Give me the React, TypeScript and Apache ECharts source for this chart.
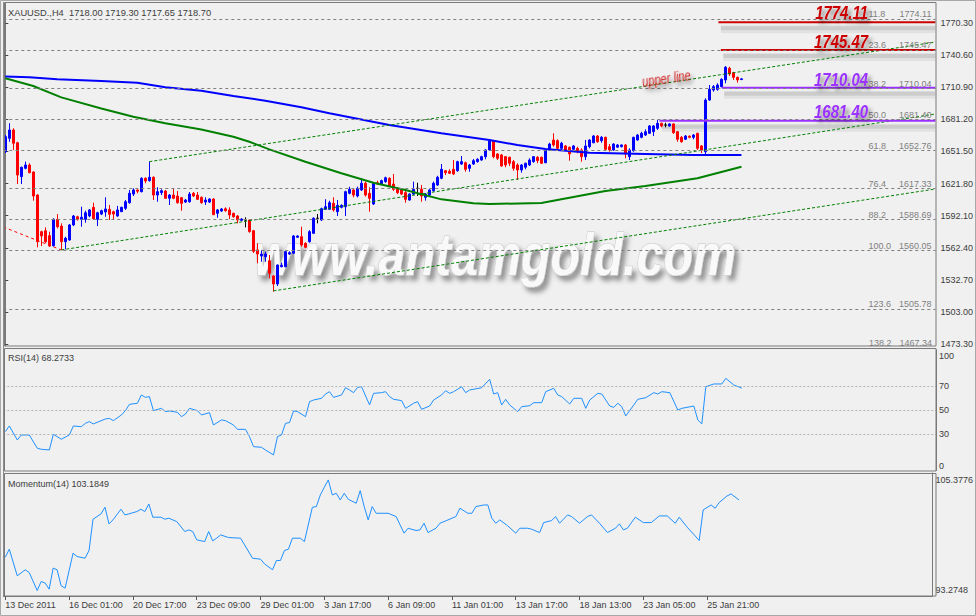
import React, { useEffect, useRef } from "react";
import * as echarts from "echarts";

const FONT = "'Liberation Sans', Arial, sans-serif";

const symbolName = "XAUUSD.,H4";
const tickLabels = ["13 Dec 2011", "16 Dec 01:00", "20 Dec 17:00", "23 Dec 09:00", "29 Dec 01:00", "3 Jan 17:00", "6 Jan 09:00", "11 Jan 01:00", "13 Jan 17:00", "18 Jan 13:00", "23 Jan 05:00", "25 Jan 21:00"];
const barsPerTick = 16;
const totalSlots = 233;

const opens = [
  1651.3, 1663.7, 1671.4, 1659.6, 1628.2, 1635.9, 1639.0, 1632.5, 1611.2, 1577.3,
  1578.2, 1573.6, 1564.3, 1588.7, 1582.5, 1568.0, 1569.6, 1583.5, 1591.1, 1588.7,
  1588.7, 1591.8, 1599.8, 1588.7, 1593.6, 1595.5, 1598.0, 1595.8, 1591.8, 1595.8,
  1598.9, 1604.1, 1612.1, 1615.9, 1614.3, 1626.7, 1624.5, 1627.6, 1611.2, 1613.4,
  1614.9, 1608.2, 1611.2, 1610.3, 1608.7, 1604.7, 1605.0, 1612.8, 1611.2, 1609.1,
  1604.7, 1604.7, 1607.5, 1594.3, 1596.4, 1598.5, 1597.4, 1594.3, 1591.8, 1587.8,
  1588.1, 1588.1, 1578.2, 1560.4, 1554.8, 1554.1, 1550.4, 1536.3, 1528.9, 1544.9,
  1544.9, 1556.6, 1557.3, 1572.1, 1572.6, 1566.5, 1568.0, 1575.8, 1589.7, 1588.1,
  1598.0, 1598.0, 1603.5, 1595.8, 1599.8, 1600.4, 1612.8, 1615.9, 1610.3, 1615.9,
  1622.1, 1612.8, 1602.9, 1622.6, 1621.4, 1623.6, 1626.7, 1621.4, 1617.1, 1615.9,
  1613.4, 1606.6, 1612.1, 1617.4, 1616.5, 1609.1, 1611.2, 1615.2, 1620.5, 1626.7,
  1633.7, 1633.2, 1635.0, 1633.7, 1639.9, 1641.1, 1635.9, 1639.9, 1642.1, 1643.6,
  1646.7, 1652.9, 1661.5, 1649.2, 1648.3, 1646.7, 1646.1, 1642.1, 1639.0, 1634.4,
  1636.9, 1639.0, 1642.1, 1646.1, 1646.1, 1641.1, 1652.9, 1662.1, 1661.5, 1654.4,
  1656.6, 1655.4, 1653.5, 1654.4, 1652.9, 1646.7, 1655.9, 1659.6, 1665.8, 1661.5,
  1664.6, 1655.9, 1652.9, 1655.5, 1656.0, 1657.5, 1646.7, 1652.2, 1662.1, 1664.6,
  1666.7, 1668.3, 1669.8, 1672.9, 1677.6, 1676.0, 1675.1, 1677.0, 1669.8, 1664.6,
  1662.8, 1665.6, 1664.6, 1668.3, 1656.6, 1651.3, 1699.1, 1708.4, 1709.0, 1711.5,
  1717.7, 1728.5, 1724.4, 1720.1, 1718.0,
];
const closes = [
  1665.2, 1671.4, 1659.1, 1629.7, 1636.9, 1639.0, 1631.9, 1610.3, 1568.0, 1573.3,
  1568.0, 1564.0, 1588.7, 1581.9, 1568.0, 1571.2, 1583.5, 1591.8, 1588.7, 1590.6,
  1594.8, 1597.4, 1589.3, 1594.8, 1596.7, 1598.3, 1593.4, 1593.6, 1597.4, 1599.8,
  1605.0, 1612.8, 1615.9, 1614.7, 1626.7, 1624.2, 1627.6, 1611.2, 1614.3, 1615.2,
  1608.2, 1611.2, 1608.2, 1604.1, 1603.5, 1606.6, 1612.1, 1610.3, 1607.2, 1604.1,
  1606.6, 1607.5, 1593.0, 1597.4, 1598.3, 1596.7, 1592.7, 1591.1, 1588.1, 1589.0,
  1588.1, 1577.3, 1559.1, 1556.6, 1556.6, 1556.6, 1538.8, 1528.9, 1546.4, 1546.2,
  1558.8, 1557.9, 1573.3, 1573.3, 1564.9, 1562.8, 1577.3, 1589.7, 1589.7, 1598.6,
  1600.4, 1604.1, 1597.4, 1601.7, 1601.7, 1614.3, 1616.5, 1611.2, 1617.4, 1622.1,
  1611.2, 1608.2, 1622.1, 1621.4, 1624.5, 1627.2, 1619.6, 1616.5, 1613.4, 1612.1,
  1607.2, 1612.1, 1616.5, 1617.4, 1610.3, 1612.1, 1615.9, 1622.1, 1627.6, 1635.0,
  1631.9, 1631.3, 1630.7, 1642.1, 1642.1, 1635.0, 1639.0, 1643.0, 1644.3, 1646.7,
  1652.9, 1661.2, 1646.7, 1645.2, 1638.1, 1639.0, 1640.6, 1635.9, 1634.4, 1639.0,
  1640.6, 1643.6, 1646.7, 1643.0, 1640.6, 1652.9, 1658.4, 1657.5, 1654.4, 1659.1,
  1652.9, 1649.2, 1656.6, 1651.3, 1646.7, 1656.6, 1662.1, 1665.8, 1660.5, 1664.6,
  1653.5, 1652.9, 1658.4, 1657.5, 1657.5, 1649.2, 1652.9, 1664.6, 1666.7, 1668.3,
  1669.8, 1675.1, 1675.1, 1677.6, 1675.1, 1676.0, 1677.0, 1668.9, 1662.8, 1660.5,
  1665.8, 1664.6, 1666.7, 1654.4, 1652.9, 1699.1, 1709.0, 1711.5, 1713.0, 1718.3,
  1729.4, 1723.2, 1720.1, 1717.7, 1718.7,
];
const lows = [
  1650.1, 1660.5, 1652.9, 1621.4, 1621.4, 1635.0, 1631.3, 1606.0, 1562.8, 1564.0,
  1566.5, 1563.4, 1563.4, 1580.4, 1560.4, 1561.0, 1568.9, 1582.5, 1587.5, 1581.9,
  1585.6, 1590.6, 1588.1, 1582.5, 1592.6, 1591.1, 1588.1, 1588.7, 1591.1, 1595.5,
  1597.4, 1603.2, 1610.3, 1612.8, 1613.7, 1622.1, 1623.6, 1606.6, 1605.0, 1611.2,
  1607.8, 1602.0, 1607.3, 1603.2, 1596.7, 1603.8, 1604.1, 1609.4, 1606.6, 1603.2,
  1602.0, 1603.8, 1592.7, 1590.2, 1595.5, 1595.8, 1589.0, 1590.2, 1585.0, 1587.2,
  1581.3, 1576.4, 1557.6, 1548.0, 1549.5, 1549.5, 1534.1, 1521.8, 1527.0, 1544.3,
  1544.3, 1555.7, 1556.6, 1571.7, 1563.4, 1561.9, 1567.1, 1575.1, 1585.0, 1587.2,
  1597.4, 1597.4, 1595.8, 1591.8, 1598.9, 1591.8, 1611.9, 1609.1, 1609.1, 1615.0,
  1609.8, 1595.8, 1602.0, 1620.5, 1620.5, 1622.6, 1618.9, 1615.0, 1612.1, 1611.2,
  1604.1, 1606.0, 1611.2, 1610.3, 1605.0, 1606.0, 1610.3, 1614.3, 1619.6, 1625.8,
  1629.7, 1630.7, 1629.7, 1632.8, 1639.0, 1632.8, 1632.8, 1639.0, 1641.1, 1642.9,
  1644.3, 1652.0, 1645.2, 1643.6, 1637.4, 1636.9, 1638.1, 1633.7, 1625.1, 1631.9,
  1635.0, 1638.1, 1641.1, 1640.6, 1639.9, 1640.6, 1652.2, 1655.9, 1652.9, 1652.9,
  1652.3, 1643.0, 1652.9, 1649.8, 1642.1, 1643.6, 1654.4, 1659.1, 1659.6, 1659.6,
  1652.9, 1651.3, 1652.2, 1654.8, 1655.2, 1645.2, 1643.6, 1651.3, 1661.5, 1663.7,
  1665.8, 1667.7, 1665.8, 1671.4, 1673.9, 1673.9, 1674.5, 1667.7, 1660.5, 1659.6,
  1662.1, 1663.7, 1662.8, 1652.9, 1650.1, 1648.2, 1698.5, 1706.8, 1707.7, 1710.9,
  1714.6, 1721.4, 1717.7, 1715.2, 1717.65,
];
const highs = [
  1666.7, 1677.6, 1673.0, 1660.5, 1637.4, 1642.1, 1640.6, 1633.0, 1612.0, 1578.2,
  1581.3, 1577.3, 1589.7, 1593.6, 1585.0, 1572.6, 1584.4, 1592.7, 1592.0, 1600.4,
  1596.7, 1598.3, 1604.1, 1595.7, 1597.6, 1609.1, 1602.0, 1596.7, 1601.1, 1600.4,
  1606.6, 1615.9, 1617.4, 1616.3, 1627.6, 1627.6, 1642.1, 1628.5, 1618.4, 1616.5,
  1615.9, 1612.1, 1617.1, 1614.9, 1609.4, 1607.6, 1614.0, 1614.0, 1614.0, 1609.8,
  1609.1, 1608.2, 1608.2, 1598.3, 1599.2, 1599.8, 1599.8, 1594.8, 1592.7, 1589.7,
  1590.6, 1588.7, 1578.9, 1566.5, 1560.4, 1558.8, 1555.7, 1537.0, 1547.0, 1548.6,
  1559.7, 1559.1, 1574.2, 1574.0, 1581.9, 1567.4, 1578.7, 1590.6, 1593.6, 1599.5,
  1607.3, 1605.9, 1609.1, 1606.6, 1602.6, 1615.2, 1618.9, 1616.5, 1618.9, 1626.7,
  1623.6, 1618.4, 1623.0, 1624.5, 1625.4, 1628.2, 1627.6, 1630.7, 1618.4, 1616.5,
  1615.9, 1612.8, 1623.6, 1622.6, 1620.5, 1613.0, 1616.5, 1623.6, 1629.0, 1639.9,
  1634.4, 1635.0, 1643.6, 1643.0, 1647.3, 1642.1, 1640.0, 1644.6, 1645.2, 1647.6,
  1653.5, 1662.9, 1662.1, 1649.8, 1649.2, 1647.3, 1646.7, 1643.6, 1640.6, 1639.9,
  1641.1, 1645.2, 1647.3, 1647.3, 1646.7, 1653.5, 1659.6, 1668.3, 1662.8, 1660.5,
  1657.5, 1656.0, 1657.5, 1655.9, 1654.4, 1662.1, 1662.8, 1666.7, 1666.7, 1665.8,
  1665.2, 1658.4, 1659.1, 1658.4, 1658.1, 1658.4, 1654.4, 1665.2, 1667.7, 1669.8,
  1672.0, 1676.0, 1676.0, 1680.6, 1678.1, 1678.1, 1677.6, 1677.6, 1670.5, 1665.8,
  1666.7, 1666.4, 1667.7, 1668.9, 1657.5, 1700.7, 1713.0, 1713.0, 1714.6, 1719.2,
  1730.6, 1729.9, 1725.2, 1720.8, 1719.3,
];

// moving averages: [bar index, price]
const blueMA = [
  [0, 1720.9], [6, 1720.1], [13, 1718.3], [24, 1716.7], [33, 1715.1], [40, 1710.9], [49, 1707.7],
  [57, 1702.8], [65, 1698.5], [74, 1692.4], [81, 1686.8], [96, 1676.0], [109, 1668.3], [121, 1662.1],
  [128, 1657.5], [135, 1653.8], [146, 1650.4], [160, 1649.2], [172, 1648.2], [184, 1648.2],
];
const greenMA = [
  [0, 1719.2], [7, 1712.1], [14, 1701.6], [24, 1691.3], [32, 1683.7], [40, 1677.6], [49, 1671.8],
  [57, 1665.2], [61, 1660.5], [66, 1653.5], [75, 1642.0], [84, 1631.3], [92, 1622.6], [100, 1615.8],
  [109, 1607.2], [117, 1603.5], [121, 1602.9], [134, 1603.8], [150, 1615.0], [160, 1619.6],
  [173, 1626.7], [184, 1637.4],
];

// trend lines: [bar index, price] endpoints
const trendLower = [[14, 1560.4], [232.5, 1686.2]];
const trendUpper = [[36, 1642.1], [232.5, 1752.8]];
const trendBottom = [[67, 1522.5], [232.5, 1616.8]];
const trendRedOld = [[-0.5, 1581.6], [14, 1560.4]];

// horizontal level lines drawn on the chart
const redLevel1 = [[178.25, 1771.0], [232.5, 1771.0]];
const redLevel2 = [[178.85, 1745.4], [232.5, 1745.4]];
const purpleLevel1 = [[179.1, 1710.4], [232.5, 1710.4]];
const purpleLevel2 = [[163.5, 1680.0], [232.5, 1680.0]];

const fibRatios = ["11.8", "23.6", "38.2", "50.0", "61.8", "76.4", "88.2", "100.0", "123.6", "138.2"];
const fibPrices = [1774.11, 1745.47, 1710.04, 1681.40, 1652.76, 1617.33, 1588.69, 1560.05, 1505.78, 1467.34];

const priceTicks = [1473.3, 1503.0, 1532.7, 1562.4, 1592.1, 1621.8, 1651.5, 1681.2, 1710.9, 1740.6, 1770.3];
const priceMin = 1471.5;
const priceMax = 1788.9;

const rsiTicks = [0, 30, 50, 70];
const rsiTopLabel = "100";
const rsiLevels = [30, 50, 70];
const rsiLast = "68.2733";
const rsiPoints = [
  [0, 32.2], [1, 36.9], [3, 25.3], [4, 29.4], [6, 29.4], [8, 18.4], [9, 17.6], [11, 17.0], [12, 30.0],
  [14, 25.9], [16, 29.4], [17, 36.9], [19, 36.3], [20, 39.1], [21, 40.5], [22, 38.6], [25, 42.7],
  [26, 43.2], [27, 41.3], [29, 46.0], [30, 49.6], [31, 54.8], [33, 55.7], [34, 62.6], [35, 60.6],
  [36, 61.2], [37, 49.6], [39, 51.5], [40, 48.8], [41, 49.3], [43, 48.2], [44, 44.6], [45, 46.8],
  [46, 51.5], [48, 49.6], [49, 46.0], [51, 47.9], [52, 37.7], [54, 41.9], [55, 41.3], [57, 37.7],
  [58, 34.1], [60, 34.1], [61, 28.1], [62, 19.8], [64, 19.2], [65, 17.0], [67, 12.9], [68, 28.1],
  [69, 29.4], [70, 39.1], [71, 39.7], [72, 49.3], [73, 48.8], [75, 44.6], [76, 57.0], [77, 58.4],
  [79, 59.8], [80, 63.4], [81, 65.3], [82, 60.6], [84, 62.6], [85, 68.6], [86, 66.7], [87, 64.5],
  [88, 68.9], [89, 69.4], [91, 54.3], [92, 63.9], [94, 64.5], [95, 65.3], [96, 61.2], [97, 59.0],
  [99, 57.9], [100, 51.5], [102, 55.7], [103, 57.0], [104, 50.7], [106, 53.4], [107, 58.4],
  [109, 62.6], [110, 66.1], [111, 63.9], [112, 65.3], [114, 69.4], [115, 64.5], [116, 66.7],
  [119, 68.6], [121, 75.5], [122, 63.4], [123, 64.5], [124, 54.3], [125, 59.0], [126, 54.3],
  [128, 48.8], [129, 52.9], [131, 53.7], [132, 56.2], [134, 56.2], [135, 65.3], [137, 68.1],
  [138, 62.6], [139, 61.2], [141, 55.1], [142, 59.8], [144, 59.8], [145, 51.5], [146, 58.4],
  [148, 63.9], [149, 63.4], [151, 53.4], [152, 52.3], [153, 55.7], [154, 52.9], [155, 45.2],
  [157, 54.3], [158, 59.0], [160, 60.3], [162, 64.5], [163, 63.4], [164, 65.3], [166, 64.5],
  [168, 50.1], [169, 51.5], [172, 53.4], [173, 41.9], [174, 38.6], [175, 69.4], [177, 71.7],
  [179, 71.7], [180, 76.3], [182, 70.8], [184, 68.27],
];

const momLast = "103.1849";
const momMin = 93.2748;
const momMax = 105.3776;
const momPoints = [
  [0, 96.92], [1, 97.8], [3, 94.88], [5, 95.54], [6, 95.24], [8, 93.27], [9, 94.26], [10, 94.08],
  [11, 93.42], [12, 95.72], [13, 95.54], [14, 93.79], [15, 93.53], [17, 97.36], [18, 96.99],
  [20, 96.81], [21, 97.65], [22, 101.08], [24, 101.66], [25, 102.39], [26, 100.57], [27, 101.0],
  [29, 102.17], [30, 101.55], [31, 101.66], [33, 101.92], [34, 102.17], [35, 101.92], [36, 102.75],
  [37, 101.3], [39, 101.3], [40, 101.08], [41, 101.19], [43, 100.82], [45, 99.73], [46, 99.91],
  [47, 99.73], [48, 98.82], [50, 98.63], [51, 99.73], [52, 98.71], [53, 99.0], [54, 99.36],
  [56, 99.07], [59, 99.0], [60, 98.27], [62, 96.81], [64, 96.7], [65, 96.19], [67, 95.54],
  [68, 96.56], [69, 96.56], [70, 97.65], [71, 97.8], [72, 99.0], [74, 99.0], [75, 98.63],
  [77, 102.39], [78, 102.46], [79, 103.74], [80, 104.58], [81, 105.38], [82, 103.74], [83, 103.92],
  [84, 103.19], [85, 103.92], [86, 103.26], [88, 102.83], [89, 104.21], [90, 102.46], [91, 101.0],
  [92, 102.46], [93, 101.73], [96, 101.73], [98, 101.37], [100, 99.55], [101, 100.09], [103, 99.84],
  [104, 99.91], [105, 100.64], [106, 99.62], [108, 100.09], [109, 100.64], [111, 101.0],
  [113, 101.37], [114, 102.28], [116, 101.73], [117, 101.73], [118, 102.46], [120, 102.64],
  [121, 102.64], [122, 101.19], [123, 100.64], [124, 101.0], [126, 100.35], [128, 99.55],
  [129, 100.09], [131, 100.09], [132, 99.98], [134, 99.62], [135, 100.71], [137, 100.93],
  [138, 101.37], [139, 100.64], [141, 101.55], [142, 101.37], [144, 100.64], [146, 101.37],
  [147, 101.55], [149, 100.64], [151, 99.62], [153, 100.09], [154, 100.57], [155, 99.91],
  [156, 100.09], [158, 101.3], [160, 100.71], [162, 100.71], [164, 101.44], [166, 101.44],
  [168, 100.64], [169, 101.3], [171, 100.2], [173, 99.25], [174, 98.74], [175, 102.1],
  [177, 102.64], [178, 102.28], [179, 102.9], [181, 103.63], [182, 103.85], [184, 103.18],
];

const RED = "#cc0000";
const PURPLE = "#9b30ff";

function buildOption() {
  const n = opens.length;
  const categories = Array.from({ length: totalSlots }, (_, i) => String(i));
  const candles = opens.map((o, i) => [o, closes[i], lows[i], highs[i]]);
  const last = n - 1;
  const lastClose = closes[last];
  const header = `${symbolName}  ${opens[last].toFixed(2)} ${highs[last].toFixed(2)} ${lows[last].toFixed(2)} ${closes[last].toFixed(2)}`;
  const isTick = (idx: number) => idx % barsPerTick === 0 && idx / barsPerTick < tickLabels.length;

  const fibIn = fibPrices.map((p, i) => ({ p, r: fibRatios[i] })).filter((f) => f.p >= priceMin);
  const fibOut = fibPrices.map((p, i) => ({ p, r: fibRatios[i] })).filter((f) => f.p < priceMin);

  const axisTextColor = "#3c3c3c";
  const frameColor = "#7a7a7a";

  const lineBase = (data: number[][], color: string, width: number, type: any, z = 3) => ({
    type: "line",
    xAxisIndex: 1,
    yAxisIndex: 0,
    data,
    symbol: "none",
    showSymbol: false,
    silent: true,
    z,
    lineStyle: { color, width, type },
  });

  // soft grey shadow band drawn a few pixels under a level line
  const shadowOf = (data: number[][], dy: number) => data.map(([x, y], k) => [k === 0 ? x + 0.6 : x, y - dy]);
  const levelLine = (data: number[][], color: string) => [
    lineBase(shadowOf(data, 6.5), "rgba(0,0,0,0.06)", 8, "solid", 2),
    lineBase(shadowOf(data, 5.5), "rgba(0,0,0,0.09)", 4, "solid", 2),
    lineBase(data, color, 2, "solid", 4),
  ];

  const bigLabelTexts = [
    { t: fibPrices[0].toFixed(2), c: RED, y: 13.5 },
    { t: fibPrices[1].toFixed(2), c: RED, y: 42.5 },
    { t: fibPrices[2].toFixed(2), c: PURPLE, y: 80.5 },
    { t: fibPrices[3].toFixed(2), c: PURPLE, y: 112.5 },
  ];

  const textShadow = (a: number, b: number, ox: number, oy: number) => ({
    textShadowColor: `rgba(0,0,0,${a})`,
    textShadowBlur: b,
    textShadowOffsetX: ox,
    textShadowOffsetY: oy,
    shadowColor: `rgba(0,0,0,${a})`,
    shadowBlur: b,
    shadowOffsetX: ox,
    shadowOffsetY: oy,
  });

  const graphic: any[] = [
    {
      type: "text", z: 0, silent: true, x: 495, y: 254, scaleX: 0.82,
      style: {
        text: "www.antamgold.com",
        font: `italic bold 59px ${FONT}`,
        fill: "#f9f9f9", stroke: "#c4c4c4", lineWidth: 1,
        align: "center", verticalAlign: "middle",
        ...textShadow(0.4, 5, 4, 5),
      },
    },
    { type: "rect", silent: true, z: 20, shape: { x: 0.5, y: 0.5, width: 975, height: 615 }, style: { fill: "none", stroke: "#a8a8a8", lineWidth: 1 } },
    { type: "rect", silent: true, z: 20, shape: { x: 4.5, y: 2.5, width: 931.5, height: 343.5 }, style: { fill: "none", stroke: frameColor, lineWidth: 1 } },
    { type: "rect", silent: true, z: 20, shape: { x: 4.5, y: 348.5, width: 931.5, height: 122.5 }, style: { fill: "none", stroke: frameColor, lineWidth: 1 } },
    { type: "rect", silent: true, z: 20, shape: { x: 4.5, y: 473.5, width: 931.5, height: 122.5 }, style: { fill: "none", stroke: frameColor, lineWidth: 1 } },
    { type: "line", silent: true, z: 20, shape: { x1: 3.5, y1: 2, x2: 3.5, y2: 597 }, style: { stroke: "#8a8a8a", lineWidth: 1 } },
    { type: "text", silent: true, z: 20, x: 8, y: 13, style: { text: header, font: `9.3px ${FONT}`, fill: "#3c3c3c", verticalAlign: "middle" } },
    { type: "text", silent: true, z: 20, x: 8, y: 358, style: { text: `RSI(14) ${rsiLast}`, font: `9px ${FONT}`, fill: "#3c3c3c", verticalAlign: "middle" } },
    { type: "text", silent: true, z: 20, x: 8, y: 484, style: { text: `Momentum(14) ${momLast}`, font: `9px ${FONT}`, fill: "#3c3c3c", verticalAlign: "middle" } },
    { type: "text", silent: true, z: 100, x: 939, y: 356, style: { text: rsiTopLabel, font: `9px ${FONT}`, fill: "#3c3c3c", textAlign: "left", textVerticalAlign: "middle" } },
    {
      type: "text", silent: true, z: 20, x: 666.5, y: 79.5, rotation: 0.14, scaleX: 0.8,
      style: {
        text: "upper line", font: `italic 14px ${FONT}`, fill: "#d22a2a",
        align: "center", verticalAlign: "middle", ...textShadow(0.5, 4, 2, 4),
      },
    },
    ...bigLabelTexts.map((b) => ({
      type: "text", silent: true, z: 20, x: 868, y: b.y, scaleX: 0.83,
      style: {
        text: b.t, font: `italic bold 18px ${FONT}`, fill: b.c,
        align: "right", verticalAlign: "middle", ...textShadow(0.5, 4, 3, 4),
      },
    })),
    ...fibOut.flatMap((f) => [
      { type: "text", silent: true, z: 19, x: 869, y: 347, style: { text: f.r, font: `9px ${FONT}`, fill: "#808080", align: "left", verticalAlign: "bottom" } },
      { type: "text", silent: true, z: 19, x: 932, y: 347, style: { text: f.p.toFixed(2), font: `9px ${FONT}`, fill: "#808080", align: "right", verticalAlign: "bottom" } },
    ]),
  ];

  return {
    animation: false,
    backgroundColor: "#f0f0f0",
    textStyle: { fontFamily: FONT },
    grid: [
      { left: 3.3, top: 3, width: 932.7, height: 343 },
      { left: 3.3, top: 349.8, width: 932.7, height: 120.7 },
      { left: 3.3, top: 473, width: 932.7, height: 123 },
    ],
    xAxis: [
      { type: "category", gridIndex: 0, data: categories, boundaryGap: true, show: false },
      { type: "value", gridIndex: 0, min: -0.5, max: totalSlots - 0.5, show: false },
      { type: "category", gridIndex: 1, data: categories, boundaryGap: true, show: false },
      {
        type: "category", gridIndex: 2, data: categories, boundaryGap: true,
        axisLine: { show: true, lineStyle: { color: frameColor } },
        axisTick: { show: true, alignWithLabel: true, interval: (idx: number) => isTick(idx), length: 4, lineStyle: { color: "#555" } },
        axisLabel: {
          show: true, interval: (idx: number) => isTick(idx), align: "left", margin: 4,
          fontSize: 9, color: axisTextColor, fontFamily: FONT,
          formatter: (_v: string, idx: number) => tickLabels[Math.round(idx / barsPerTick)] ?? "",
        },
        splitLine: { show: false },
      },
    ],
    yAxis: [
      {
        type: "value", gridIndex: 0, position: "right", min: priceMin, max: priceMax,
        axisLine: { show: true, lineStyle: { color: frameColor } },
        axisTick: { show: true, length: 3, customValues: priceTicks, lineStyle: { color: "#444" } },
        axisLabel: { show: true, customValues: priceTicks, formatter: (v: number) => v.toFixed(2), margin: 5, fontSize: 9, color: axisTextColor, fontFamily: FONT },
        splitLine: { show: false },
      },
      {
        type: "value", gridIndex: 1, position: "right", min: 0, max: 100,
        axisLine: { show: true, lineStyle: { color: frameColor } },
        axisTick: { show: false },
        axisLabel: {
          show: true, customValues: rsiTicks, margin: 3, fontSize: 9, color: axisTextColor, fontFamily: FONT,
          showMinLabel: true, verticalAlignMinLabel: "bottom",
          formatter: (v: number) => String(Math.round(v)),
        },
        splitLine: { show: false },
      },
      {
        type: "value", gridIndex: 2, position: "right", min: 92.67, max: 106.14,
        axisLine: { show: true, lineStyle: { color: frameColor } },
        axisTick: { show: false },
        axisLabel: { show: true, customValues: [momMin, momMax], showMinLabel: true, showMaxLabel: true, formatter: (v: number) => v.toFixed(4), margin: 3, fontSize: 9, color: axisTextColor, fontFamily: FONT },
        splitLine: { show: false },
      },
    ],
    series: [
      {
        type: "candlestick", xAxisIndex: 0, yAxisIndex: 0, data: candles, barWidth: 3, z: 2, silent: true,
        itemStyle: { color: "#0000ff", color0: "#ff0000", borderColor: "#0000ff", borderColor0: "#ff0000", borderColorDoji: "#000000", borderWidth: 1 },
        markLine: {
          silent: true, symbol: ["none", "none"], animation: false,
          lineStyle: { opacity: 0 },
          data: [{ yAxis: lastClose }],
          label: { show: true, position: "end", formatter: lastClose.toFixed(2), backgroundColor: "#6b6b6b", color: "#ffffff", padding: [1, 2, 1, 2], distance: 2, fontSize: 9, fontFamily: FONT },
        },
      },
      {
        ...lineBase(trendRedOld, "#ff0000", 1, [3, 3]),
        markLine: {
          silent: true, symbol: ["none", "none"], animation: false,
          lineStyle: { color: "#808080", width: 1, type: [3, 3] },
          label: {
            show: true, position: "insideEndTop", distance: [4, 0], color: "#808080", fontSize: 9, fontFamily: FONT,
            formatter: (p: any) => `{r|${p.name}}{p|${Number(p.value).toFixed(2)}}`,
            rich: {
              r: { width: 30, align: "left", color: "#808080", fontSize: 9, fontFamily: FONT },
              p: { width: 33, align: "right", color: "#808080", fontSize: 9, fontFamily: FONT },
            },
          },
          data: fibIn.map((f) => ({ yAxis: f.p, name: f.r })),
        },
      },
      lineBase(blueMA, "#0000ff", 2, "solid"),
      lineBase(greenMA, "#008000", 2, "solid"),
      lineBase(trendLower, "#008000", 1, [3, 2]),
      lineBase(trendUpper, "#008000", 1, [3, 2]),
      lineBase(trendBottom, "#008000", 1, [3, 2]),
      ...levelLine(redLevel1, RED),
      ...levelLine(redLevel2, RED),
      ...levelLine(purpleLevel1, PURPLE),
      ...levelLine(purpleLevel2, PURPLE),
      {
        type: "line", xAxisIndex: 2, yAxisIndex: 1, data: rsiPoints, symbol: "none", showSymbol: false, silent: true,
        lineStyle: { color: "#1e90ff", width: 1 },
        markLine: {
          silent: true, symbol: ["none", "none"], animation: false,
          lineStyle: { color: "#b4b4b4", width: 1, type: [2, 2] },
          label: { show: false },
          data: rsiLevels.map((v) => ({ yAxis: v })),
        },
      },
      {
        type: "line", xAxisIndex: 3, yAxisIndex: 2, data: momPoints, symbol: "none", showSymbol: false, silent: true,
        lineStyle: { color: "#1e90ff", width: 1 },
      },
    ],
    graphic,
  };
}

export default function App() {
  const ref = useRef<HTMLDivElement>(null);
  useEffect(() => {
    document.body.style.margin = "0";
    if (!ref.current) return;
    const chart = echarts.init(ref.current, null, { renderer: "svg" });
    chart.setOption(buildOption() as any);
    return () => chart.dispose();
  }, []);
  return <div ref={ref} style={{ width: 976, height: 616, position: "absolute", left: 0, top: 0 }} />;
}
